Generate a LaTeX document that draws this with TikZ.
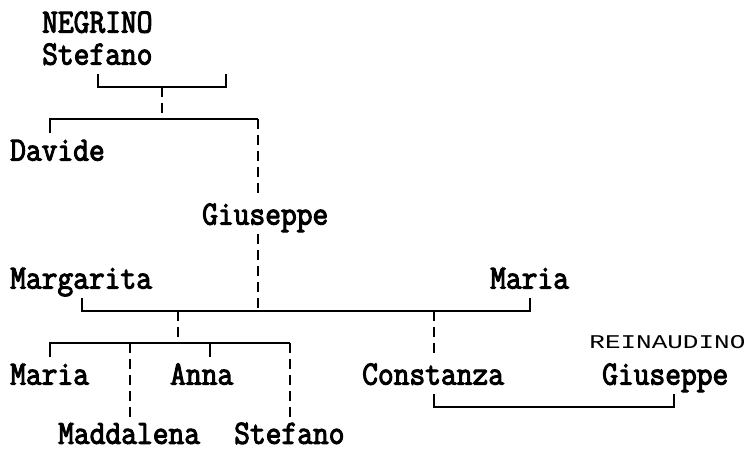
\documentclass[tikz,border=0pt]{standalone}
\usepackage{graphicx}
\usepackage{fontspec}
\newfontfamily\treefont[FakeBold=3,FakeStretch=0.9]{Latin Modern Mono}
\newfontfamily\sparsefont{Liberation Mono}
\tikzset{
  person/.style={anchor=base west,inner sep=0pt,font=\treefont\fontsize{34}{36}\selectfont},
  stranger/.style={anchor=base west,inner sep=0pt,font=\sparsefont\fontsize{20}{24}\selectfont},
  tie/.style={line width=1.6pt},
  blood/.style={line width=1.6pt,dash pattern=on 10pt off 6pt}
}
\begin{document}
\begin{tikzpicture}[x=16pt,y=-32pt]
\useasboundingbox (-0.625,-0.71875) rectangle (46.3125,13.34375);
% NAMES, ONE ROW PER LINE OF THE CHART
\node [person] (negrino) at (2,0.3) {NEGRINO};
\node [person] (stefano) at (2,1.3) {Stefano};
\node [person] (davide) at (0,4.3) {Davide};
\node [person] (giuseppe) at (12,6.3) {Giuseppe};
\node [person] (margarita) at (0,8.3) {Margarita};
\node [person] (maria) at (30,8.3) {Maria};
\node [person] (mariajr) at (0,11.3) {Maria};
\node [person] (anna) at (10,11.3) {Anna};
\node [person] (constanza) at (22,11.3) {Constanza};
\node [stranger] (reinaudino) at (36.2,10.16) {\resizebox{156pt}{13pt}{REINAUDINO}};
\node [person] (giuseppejr) at (37,11.3) {Giuseppe};
\node [person] (maddalena) at (3,13.15) {Maddalena};
\node [person] (stefanojr) at (14,13.15) {Stefano};
% JOINTS
\coordinate (s1) at (5.5,1.6);
\coordinate (s2) at (13.5,1.6);
\coordinate (s3) at (9.5,2);
\coordinate (s4) at (9.5,3);
\coordinate (d1) at (2.5,3.45);
\coordinate (g1) at (15.5,3);
\coordinate (g2) at (15.5,5.5);
\coordinate (g3) at (15.5,6.6);
\coordinate (m1) at (4.5,8.6);
\coordinate (m2) at (32.5,8.6);
\coordinate (m3) at (10.5,9);
\coordinate (m4) at (10.5,10);
\coordinate (m5) at (26.5,9);
\coordinate (k1) at (2.5,10.45);
\coordinate (k2) at (17.5,10);
\coordinate (c1) at (26.5,10.375);
\coordinate (r1) at (26.5,11.6);
\coordinate (r2) at (41.5,11.6);
% STEFANO'S UNION
\draw [tie] (s1) |- (s3) -| (s2);
\draw [blood] (s3) -- (s4);
% DAVIDE AND GIUSEPPE
\draw [tie] (d1) |- (s4) -- (g1);
\draw [blood] (g1) -- (g2);
\draw [blood] (g3) -- (15.5,9);
% MARGARITA AND MARIA
\draw [tie] (m1) |- (m3) -| (m2);
\draw [blood] (m3) -- (m4);
\draw [blood] (m5) -- (c1);
% THEIR CHILDREN
\draw [tie] (k1) |- (m4) -- (k2);
\draw [tie] (12.5,10) -- (12.5,10.45);
\foreach \x in {7.5,17.5}
  \draw [blood] (\x,10) -- (\x,12.3);
% CONSTANZA AND GIUSEPPE
\draw [tie] (r1) -- ++(0,0.4) -| (r2);
\end{tikzpicture}
\end{document}
